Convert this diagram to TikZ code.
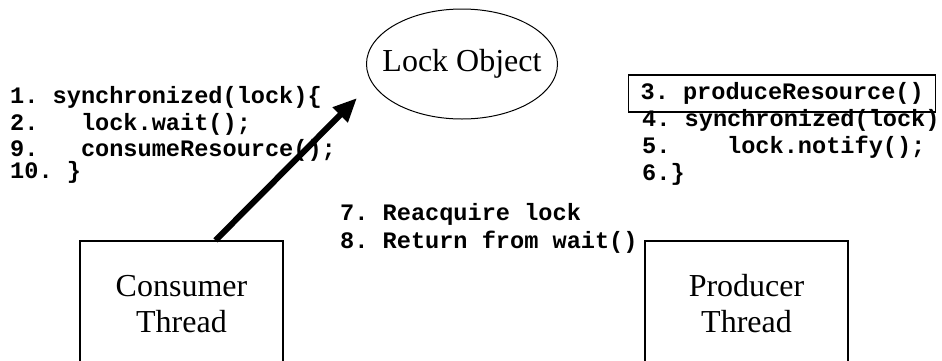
\documentclass[tikz,border=0pt]{standalone}
\usepackage{fontspec}
\setmainfont{Liberation Serif}
\setmonofont{Liberation Mono}
\usepackage{tikz}
\usetikzlibrary{calc,arrows.meta,shapes.geometric}

\tikzset{
	code/.style={anchor=base west,inner sep=0pt,text height=15pt,text depth=4pt,
		font=\ttfamily\bfseries\fontsize{23.6}{26}\selectfont},
	roman/.style={inner sep=0pt,align=center,font=\fontsize{32}{36}\selectfont},
	thread/.style={roman,draw,line width=1.3pt,minimum width=203pt,minimum height=126pt},
	push/.style={line width=6pt,-{Triangle[length=24pt,width=20pt]}}
}

\begin{document}
\begin{tikzpicture}[x=1pt,y=-1pt]
			\useasboundingbox (0,0) rectangle (942,360);
			
			\node[ellipse,draw,line width=1pt,minimum width=191pt,minimum height=110pt] (lock) at (462,64) {};
			\node[roman] (lockname) at (lock) {Lock Object};
			
			%consumer side
			\node[code] (c1) at (10,103) {1. synchronized(lock)\{};
			\node[code] (c2) at ($(c1.base west)+(0,27)$) {2.\ \ \ lock.wait();};
			\node[code] (c9) at ($(c2.base west)+(0,26)$) {9.\ \ \ consumeResource();};
			\node[code] (c10) at ($(c9.base west)+(0,22)$) {10. \}};
			
			%producer side
			\node[code,draw,line width=1.2pt,inner xsep=12pt,inner ysep=9pt] (p3) at (628,99) {3. produceResource()};
			\node[code] (p4) at ($(p3.base west)+(14,27)$) {4. synchronized(lock)};
			\node[code] (p5) at ($(p4.base west)+(0,27)$) {5.\ \ \ \ lock.notify();};
			\node[code] (p6) at ($(p5.base west)+(0,27)$) {6.\}};
			
			\node[code] (r7) at (340,220) {7. Reacquire lock};
			\node[code] (r8) at ($(r7.base west)+(0,28)$) {8. Return from wait()};
			
			%threads
			\node[thread] (cons) at (181.5,304) {Consumer\\Thread};
			\node[thread] (prod) at (746.5,304) {Producer\\Thread};
			
			\coordinate (tail) at ($(cons.north)+(34,0)$);
			\coordinate (tip) at (357,98);
			\draw[push] (tail)--(tip);
		\end{tikzpicture}
\end{document}
